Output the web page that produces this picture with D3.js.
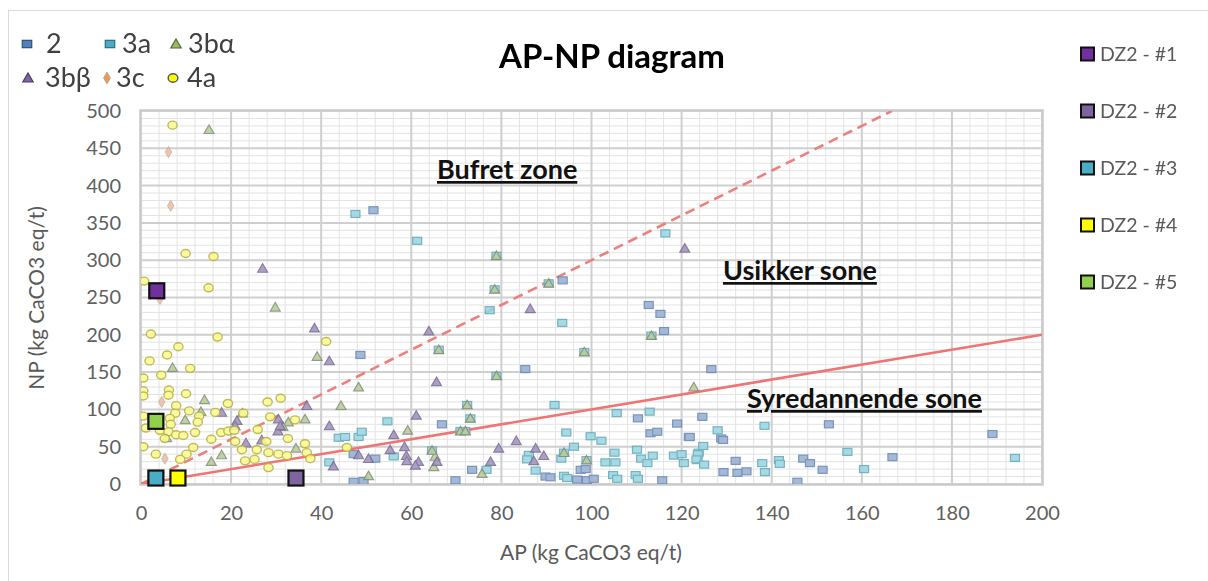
<!DOCTYPE html>
<html>
<head>
<meta charset="utf-8">
<script src="https://cdn.jsdelivr.net/npm/d3@7"></script>
<style>
  html, body { margin: 0; padding: 0; background: #fff; }
  svg { display: block; font-family: Lato, "Open Sans", sans-serif; }
</style>
</head>
<body>
<svg id="chart" width="1208" height="581"></svg>
<script>
// AP / NP values (kg CaCO3 eq/t) for each rock class, as [AP, NP] pairs
const series2 = [[48.7,173],[51.6,367],[66.8,80],[110.3,88],[119,81],[113.1,68],[114.6,70],[121.6,63],[47.2,40],[52,34],[47.2,3],[49.4,4],[73.5,19],[69.8,5],[89.8,10],[90.9,9],[97.6,19],[98.7,20],[96.8,6],[99,5],[100.5,7],[115.7,5],[93.6,273],[112.7,240],[115.3,228],[116.1,205],[85.3,154],[126.6,154],[124.6,90],[121.8,63],[128.8,61],[129.2,59],[132,31],[129.3,16],[132.4,15],[134.4,17],[147,34],[148.5,28],[151.3,19],[145.7,3],[152.7,80],[166.8,36],[189,67]];
const series3a = [[47.6,362],[61.3,326],[77.4,233],[93.5,216],[116.4,336],[54.7,84],[91.8,106],[43.9,62],[45.3,63],[48.3,63],[49,70],[105.6,95],[112.9,97],[94.4,69],[99.8,64],[102.2,58],[96.1,50],[110.1,46],[56.1,37],[41.8,29],[76.7,19],[86.1,39],[85.7,33],[93.3,34],[87.6,18],[93.9,11],[94.6,8],[103.1,29],[105.3,29],[105.1,42],[111,34],[112.4,28],[113.6,38],[104.8,12],[105.7,7],[109.8,12],[110.3,7],[118.3,38],[120,40],[120.5,28],[123.5,32],[123.8,42],[128,72],[124.8,51],[123.6,40],[123.3,33],[125,26],[138.4,78],[137.9,28],[138.5,16],[141.6,32],[141.8,27],[156.8,43],[160.5,20],[194,35],[66.1,180],[78.9,145],[72.4,106],[73.1,88],[70.9,71],[72,71],[64.6,45],[93.9,42],[98.9,32],[78.9,306],[78.5,261],[90.5,269],[98.4,177],[113.3,199]];
const series3ba = [[15.1,475],[29.8,237],[7,156],[14.1,113],[9.8,86],[13.3,97],[22.5,95],[17.9,39],[15.6,30],[36.4,87],[32.7,83],[34.4,48],[5.7,62],[39.1,171],[48.3,130],[44.4,105],[59.2,72],[65.3,37],[65,23],[50.5,11],[75.7,14],[122.7,130],[31.5,77],[66.1,180],[78.9,145],[72.4,106],[73.1,88],[70.9,71],[72,71],[64.6,45],[93.9,42],[98.9,32],[78.9,306],[78.5,261],[90.5,269],[98.4,177],[113.3,199]];
const series3bb = [[27,289],[17.9,96],[21.3,85],[20.9,78],[30.5,87],[30.4,71],[30.9,78],[23.3,55],[26.8,59],[36.8,105],[38.5,209],[41.8,165],[63.9,205],[86.4,235],[65.6,137],[61.1,92],[41.8,78],[56.1,66],[83.3,58],[58.5,50],[55.3,46],[79.4,48],[87.6,48],[48.3,39],[50.5,34],[58.9,38],[59,31],[61.6,30],[65.7,30],[60.9,25],[42.7,24],[77.6,30],[87.2,31],[89.4,38],[120.7,316]];
const series3c = [[6.1,445],[6.6,373],[4.2,248],[4.6,110],[5.3,34]];
const series4a = [[7,481],[9.9,309],[16.1,305],[0.7,272],[15,263],[2.2,201],[17,197],[8.3,184],[5.8,173],[1.9,165],[10.9,155],[4.5,146],[0.5,142],[6.2,126],[0.5,125],[10,121],[6.1,119],[0.5,118],[19.3,108],[7.8,105],[7.6,95],[10.7,98],[16.5,96],[22.7,95],[12.9,91],[28.1,110],[31,115],[0.5,91],[6.4,88],[12.6,83],[1.1,75],[6.6,80],[4.2,72],[6.1,70],[7.8,66],[9.4,65],[12,69],[5.3,61],[17.8,69],[19.4,71],[20.7,72],[25.9,73],[28.7,90],[34.2,86],[15.6,60],[11.6,49],[20.9,57],[22.4,46],[25.7,46],[27.8,57],[32.6,61],[36.4,54],[3.3,40],[10.1,40],[8.7,33],[23.1,31],[25.2,33],[28.3,42],[30.5,40],[32.4,38],[36.8,42],[37.6,34],[28.3,22],[41.1,191],[45.7,49],[0.5,50]];

// Individual DZ2 samples
const dzNames = ["DZ2 - #1","DZ2 - #2","DZ2 - #3","DZ2 - #4","DZ2 - #5"];
const dzAP = [3.5, 34.4, 3.3, 8.2, 3.3];
const dzNP = [259, 8, 8, 8, 84];
const dzColors = ["#7030a0","#8064a2","#4bacc6","#ffff00","#92d050"];

// Zone boundaries: NP/AP = 3 (dashed) and NP/AP = 1 (solid)
const boundaryRatios = [3, 1];

const xTicks = [0,20,40,60,80,100,120,140,160,180,200];
const yTicks = [0,50,100,150,200,250,300,350,400,450,500];

const svg = d3.select("#chart");
const W = 1208, H = 581;
const plot = {left: 141, right: 1042, top: 111, bottom: 484};

const x = d3.scaleLinear().domain([0, 200]).range([plot.left, plot.right]);
const y = d3.scaleLinear().domain([0, 500]).range([plot.bottom, plot.top]);

// outer frame
svg.append("rect").attr("x", 8.5).attr("y", 10.5).attr("width", W).attr("height", H)
  .attr("fill", "none").attr("stroke", "#d9d9d9");

// grid: minor then major
const grid = svg.append("g");
grid.selectAll(".vminor").data(d3.range(0, 201, 4)).join("line")
  .attr("x1", d => x(d)).attr("x2", d => x(d)).attr("y1", y(0)).attr("y2", y(500))
  .attr("stroke", "#e3e3e3").attr("stroke-width", 1);
grid.selectAll(".hminor").data(d3.range(0, 501, 10)).join("line")
  .attr("x1", x(0)).attr("x2", x(200)).attr("y1", d => y(d)).attr("y2", d => y(d))
  .attr("stroke", "#e3e3e3").attr("stroke-width", 1);
grid.selectAll(".vmajor").data(xTicks).join("line")
  .attr("x1", d => x(d)).attr("x2", d => x(d)).attr("y1", y(0)).attr("y2", y(500))
  .attr("stroke", "#cfcfcf").attr("stroke-width", 2);
grid.selectAll(".hmajor").data(yTicks).join("line")
  .attr("x1", x(0)).attr("x2", x(200)).attr("y1", d => y(d)).attr("y2", d => y(d))
  .attr("stroke", "#cfcfcf").attr("stroke-width", 2);

// axes
const xAxis = d3.axisBottom(x).tickValues(xTicks).tickSize(0).tickPadding(22);
const yAxis = d3.axisLeft(y).tickValues(yTicks).tickSize(0).tickPadding(20);
const gx = svg.append("g").attr("transform", `translate(0,${plot.bottom})`).call(xAxis);
const gy = svg.append("g").attr("transform", `translate(${plot.left},0)`).call(yAxis);
[gx, gy].forEach(g => {
  g.select(".domain").remove();
  g.selectAll("text").attr("fill", "#606060").style("font-size", "20px")
    .style("font-family", "Lato, sans-serif");
});

svg.append("text").attr("x", 591).attr("y", 560).attr("text-anchor", "middle")
  .attr("fill", "#595959").style("font-size", "21px").text("AP (kg CaCO3 eq/t)");
svg.append("text").attr("transform", "translate(44,298) rotate(-90)").attr("text-anchor", "middle")
  .attr("fill", "#595959").style("font-size", "21px").text("NP (kg CaCO3 eq/t)");

// zone boundary lines, clipped to the plot area
svg.append("clipPath").attr("id", "plotClip").append("rect")
  .attr("x", plot.left).attr("y", plot.top)
  .attr("width", plot.right - plot.left).attr("height", plot.bottom - plot.top);
const lines = svg.append("g").attr("clip-path", "url(#plotClip)");
boundaryRatios.forEach((r, i) => {
  const xEnd = Math.min(200, 500 / r);
  lines.append("line")
    .attr("x1", x(0)).attr("y1", y(0)).attr("x2", x(xEnd)).attr("y2", y(xEnd * r))
    .attr("stroke", i === 0 ? "#ee7f7f" : "#ef7474")
    .attr("stroke-width", 2.6)
    .attr("stroke-dasharray", i === 0 ? "10,6" : null);
});

// zone labels
const zones = [
  {t: "Bufret zone", x: 437, y: 179},
  {t: "Usikker sone", x: 723, y: 280},
  {t: "Syredannende sone", x: 747, y: 408}
];
svg.selectAll(".zone").data(zones).join("text")
  .attr("x", d => d.x).attr("y", d => d.y)
  .attr("fill", "#111").style("font-size", "27px").style("font-weight", "bold")
  .style("text-decoration", "underline").text(d => d.t);

// plot border
svg.append("rect").attr("x", plot.left - 1).attr("y", plot.top - 1)
  .attr("width", plot.right - plot.left + 2).attr("height", plot.bottom - plot.top + 2)
  .attr("fill", "none").attr("stroke", "#c9c9c9").attr("stroke-width", 1.5);

// marker drawing helpers
function drawMarker(g, shape, cx, cy, fill, stroke, scale) {
  const s = scale || 1;
  if (shape === "square") {
    g.append("rect").attr("x", cx - 4.5 * s).attr("y", cy - 3.5 * s)
      .attr("width", 9 * s).attr("height", 7 * s)
      .attr("fill", fill).attr("stroke", stroke).attr("stroke-width", 1.2);
  } else if (shape === "triangle") {
    g.append("path").attr("transform", `translate(${cx},${cy + 1})`)
      .attr("d", d3.symbol(d3.symbolTriangle, 42 * s * s)())
      .attr("fill", fill).attr("stroke", stroke).attr("stroke-width", 1.2);
  } else if (shape === "diamond") {
    g.append("path").attr("transform", `translate(${cx},${cy})`)
      .attr("d", d3.symbol(d3.symbolDiamond, 36 * s * s)())
      .attr("fill", fill).attr("stroke", stroke).attr("stroke-width", 1);
  } else {
    g.append("ellipse").attr("cx", cx).attr("cy", cy)
      .attr("rx", 4.6 * s).attr("ry", 4 * s)
      .attr("fill", fill).attr("stroke", stroke).attr("stroke-width", 1.4);
  }
}

const groups = [
  {name: "2",   data: series2,   shape: "square",   fill: "#98b0d3", stroke: "#6986b3", lf: "#4f81bd", ls: "#2f4f80"},
  {name: "3a",  data: series3a,  shape: "square",   fill: "#9ad5e1", stroke: "#62a9b9", lf: "#4bacc6", ls: "#2d6d80"},
  {name: "3bα", data: series3ba, shape: "triangle", fill: "#b8cc94", stroke: "#858e7c", lf: "#9bbb59", ls: "#59623f"},
  {name: "3bβ", data: series3bb, shape: "triangle", fill: "#a292bb", stroke: "#776c96", lf: "#8064a2", ls: "#4b3b66"},
  {name: "3c",  data: series3c,  shape: "diamond",  fill: "#e9bda2", stroke: "#c8b0a0", lf: "#f79646", ls: "#a9a9a9"},
  {name: "4a",  data: series4a,  shape: "circle",   fill: "#fbfb90", stroke: "#b7b144", lf: "#ffff00", ls: "#555"}
];

const marks = svg.append("g").attr("clip-path", "url(#plotClip)");
groups.forEach(gr => {
  const g = marks.append("g").attr("opacity", 0.88);
  gr.data.forEach(([ap, np]) => drawMarker(g, gr.shape, x(ap), y(np), gr.fill, gr.stroke));
});

// DZ2 samples on top
const dz = svg.append("g");
dzAP.forEach((ap, i) => {
  dz.append("rect").attr("x", x(ap) - 7.5).attr("y", y(dzNP[i]) - 7.5)
    .attr("width", 15).attr("height", 15)
    .attr("fill", dzColors[i]).attr("stroke", "#111").attr("stroke-width", 2.2);
});

// title
svg.append("text").attr("x", 612).attr("y", 68).attr("text-anchor", "middle")
  .attr("fill", "#000").style("font-size", "33px").style("font-weight", "bold")
  .text("AP-NP diagram");

// class legend, top left
const legendPos = [
  {mx: 27, tx: 46, y: 44}, {mx: 110, tx: 122, y: 44}, {mx: 176, tx: 188, y: 44},
  {mx: 28, tx: 45, y: 78}, {mx: 107, tx: 116, y: 78}, {mx: 173, tx: 187, y: 78}
];
const leg = svg.append("g");
groups.forEach((gr, i) => {
  const p = legendPos[i];
  drawMarker(leg, gr.shape, p.mx, p.y, gr.lf, gr.ls, 1.05);
  leg.append("text").attr("x", p.tx).attr("y", p.y + 9)
    .attr("fill", "#404040").style("font-size", "27px").text(gr.name);
});

// DZ2 legend, right
const dzLeg = svg.append("g");
dzNames.forEach((n, i) => {
  const cy = 54 + i * 57;
  dzLeg.append("rect").attr("x", 1081).attr("y", cy - 6.5).attr("width", 13).attr("height", 13)
    .attr("fill", dzColors[i]).attr("stroke", "#111").attr("stroke-width", 2);
  dzLeg.append("text").attr("x", 1100).attr("y", cy + 7)
    .attr("fill", "#595959").style("font-size", "19.5px").text(n);
});
</script>
</body>
</html>
